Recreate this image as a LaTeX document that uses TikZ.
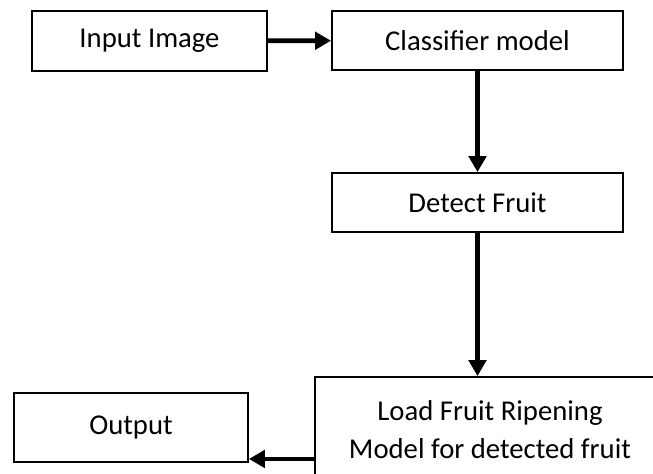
\documentclass[tikz,border=0pt]{standalone}
\usepackage{fontspec}
\setmainfont{Carlito}
\usetikzlibrary{arrows.meta}
\begin{document}
\begin{tikzpicture}[x=0.03cm,y=-0.03cm,
		box/.style={draw,rectangle,line width=1.6pt,inner sep=0pt,font=\fontsize{24.5}{32.5}\selectfont},
		arr/.style={line width=4pt,-{Triangle[length=0.48cm,width=0.52cm]}}]
		\useasboundingbox (0,0) rectangle (653,473);
		\clip (0,0) rectangle (653,473);

		\draw (149.5,41) node (inp)[box,minimum width=7.05cm,minimum height=1.8cm]{Input Image};
		\draw (477.5,40.5) node (cls)[box,minimum width=8.73cm,minimum height=1.77cm]{Classifier model};
		\draw (477.5,202.5) node (det)[box,minimum width=8.73cm,minimum height=1.77cm]{Detect Fruit};
		\draw (490,430) node (load)[box,align=center,minimum width=10.5cm,minimum height=3.18cm]{Load Fruit Ripening\\Model for detected fruit};
		\draw (131,427.5) node (out)[box,minimum width=7.02cm,minimum height=2.07cm]{Output};

		\draw[arr] (inp)--(cls);
		\draw[arr] (cls.south)--(det.north);
		\draw[arr] (det.south)--(det.south |- load.north);
		\coordinate (outin) at ([yshift=0.12cm]out.south east);
		\draw[arr] (outin -| load.west)--(outin);
	\end{tikzpicture}
\end{document}
